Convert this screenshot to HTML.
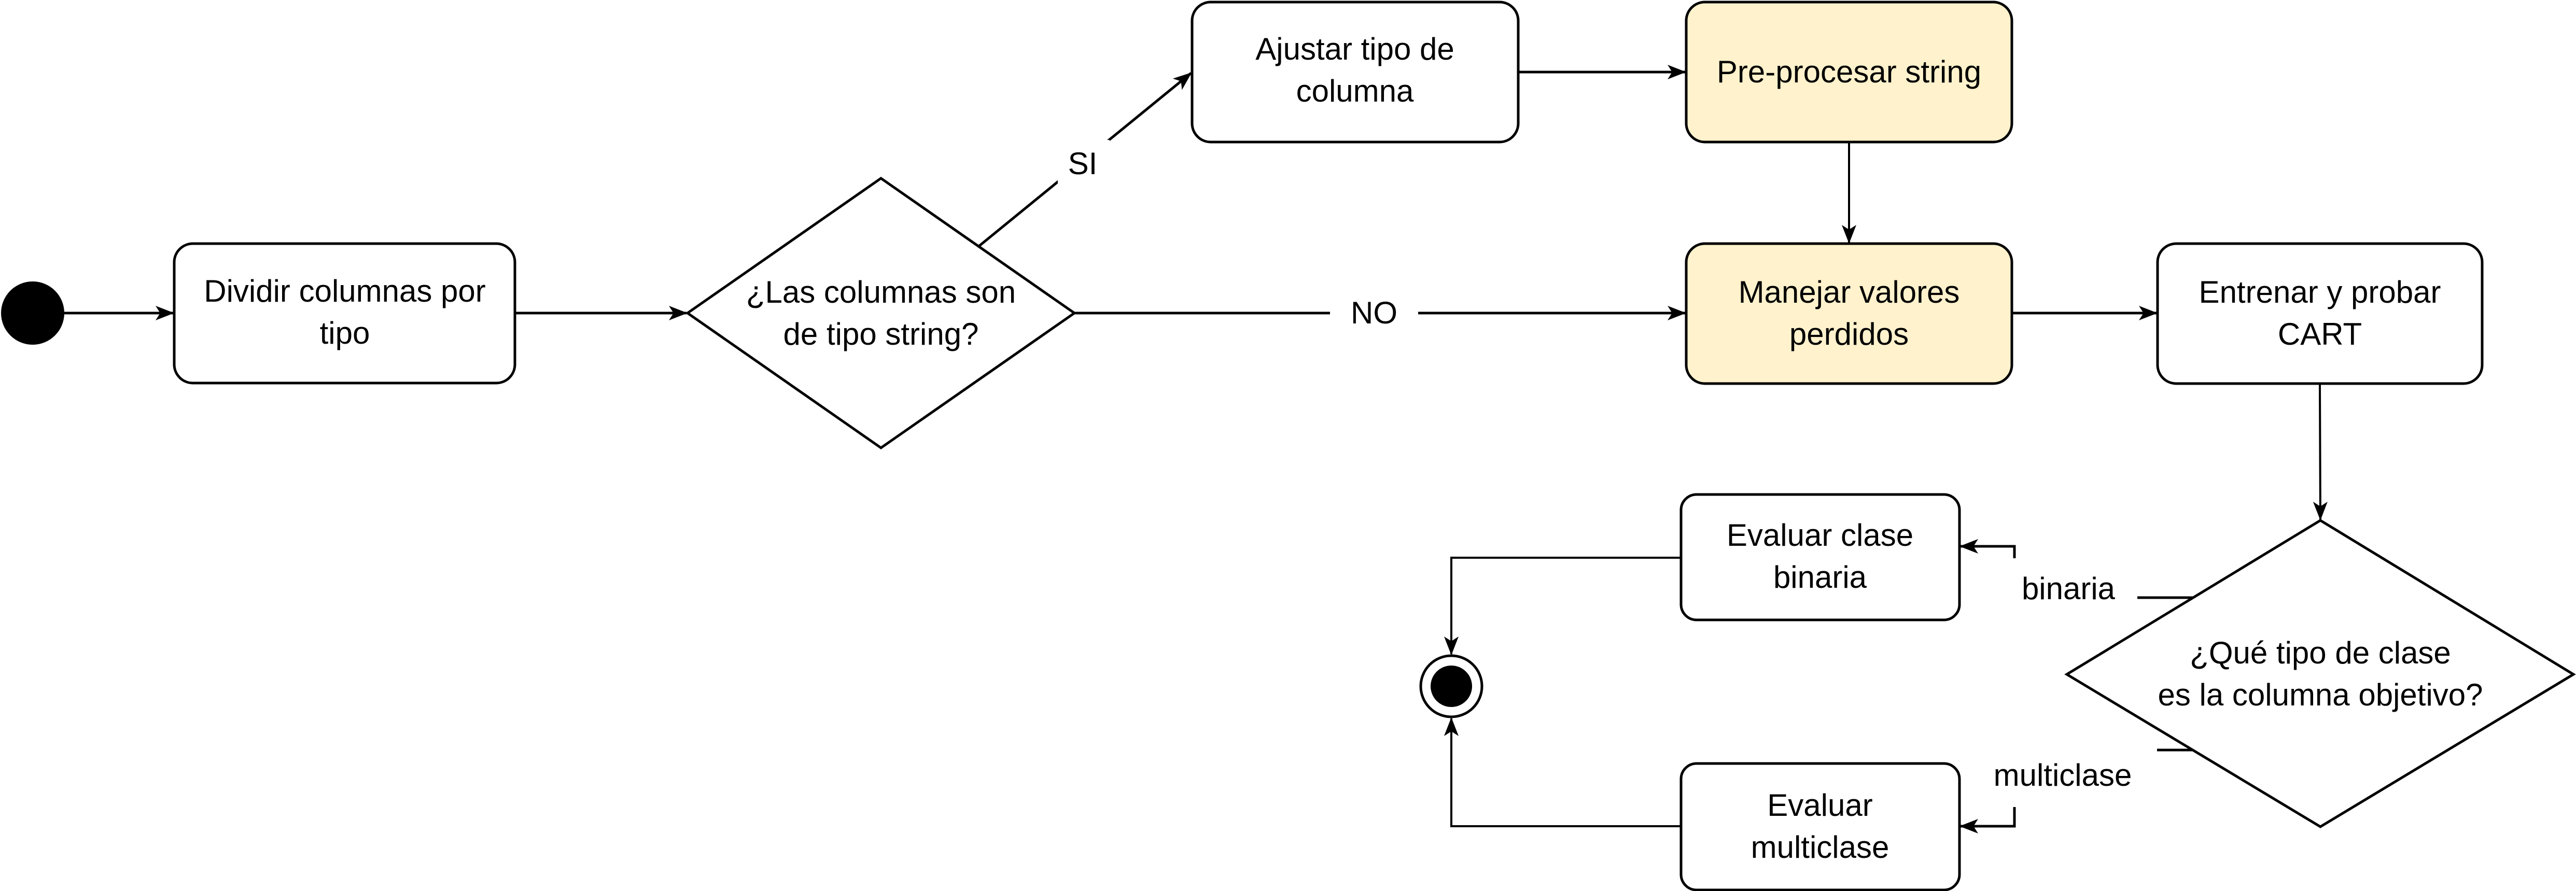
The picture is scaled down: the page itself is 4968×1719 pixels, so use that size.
<!DOCTYPE html>
<html><head><meta charset="utf-8"><style>html,body{margin:0;padding:0;background:#fff}svg{display:block}text{font-family:"Liberation Sans",Arial,sans-serif;font-size:60px}</style></head>
<body>
<svg width="4968" height="1719" viewBox="0 0 4968 1719" xmlns="http://www.w3.org/2000/svg">
<defs>
<marker id="b" markerWidth="36" markerHeight="36" refX="34" refY="18" orient="auto" markerUnits="userSpaceOnUse" viewBox="0 0 36 36"><path d="M0,4 L36,18 L0,32 L9,18 Z" fill="#000"/></marker>
</defs>
<g fill="none" stroke="#000" stroke-width="5">
<line x1="123" y1="604" x2="334" y2="604" marker-end="url(#b)"/>
<line x1="995" y1="604" x2="1324" y2="604" marker-end="url(#b)"/>
<line x1="1889" y1="474" x2="2297" y2="141" marker-end="url(#b)"/>
<line x1="2072" y1="604" x2="3250" y2="604" marker-end="url(#b)"/>
<line x1="2928" y1="139" x2="3250" y2="139" marker-end="url(#b)"/>
<line x1="3566" y1="274" x2="3566" y2="468" stroke-width="4" marker-end="url(#b)"/>
<line x1="3880" y1="604" x2="4159" y2="604" marker-end="url(#b)"/>
<line x1="4474" y1="740" x2="4475" y2="1002" stroke-width="4" marker-end="url(#b)"/>
<line x1="4231" y1="1153" x2="4122" y2="1153"/>
<polyline points="3885,1077 3885,1054 3781,1054" marker-end="url(#b)"/>
<line x1="4231" y1="1447" x2="4160" y2="1447"/>
<polyline points="3885,1557 3885,1594 3781,1594" marker-end="url(#b)"/>
<polyline points="3242,1076 2799,1076 2799,1262" stroke-width="4" marker-end="url(#b)"/>
<polyline points="3242,1594 2799,1594 2799,1386" stroke-width="4" marker-end="url(#b)"/>
<rect x="336" y="470" width="657" height="269" rx="36" fill="#fff"/>
<polygon points="1326,604 1699,344 2072,604 1699,864" fill="#fff"/>
<rect x="2299" y="4" width="629" height="270" rx="36" fill="#fff"/>
<rect x="3252" y="4" width="628" height="270" rx="36" fill="#fff2cc"/>
<rect x="3252" y="470" width="628" height="270" rx="36" fill="#fff2cc"/>
<rect x="4161" y="470" width="626" height="270" rx="36" fill="#fff"/>
<polygon points="3986,1301 4475,1004 4963,1301 4475,1595" fill="#fff"/>
<rect x="3242" y="954" width="537" height="242" rx="30" fill="#fff"/>
<rect x="3242" y="1473" width="537" height="244" rx="30" fill="#fff"/>
<circle cx="2799" cy="1324" r="59" fill="#fff"/>
</g>
<circle cx="63" cy="604" r="61" fill="#000"/>
<circle cx="2799" cy="1324" r="40" fill="#000"/>
<g fill="#fff">
<rect x="2040" y="270" width="100" height="90"/>
<rect x="2565" y="565" width="170" height="80"/>
</g>
<g fill="#000" text-anchor="middle">
<text x="665" y="582">Dividir columnas por</text><text x="665" y="663">tipo</text>
<text x="1699" y="584">¿Las columnas son</text><text x="1699" y="665">de tipo string?</text>
<text x="2613" y="115">Ajustar tipo de</text><text x="2613" y="196">columna</text>
<text x="3566" y="159">Pre-procesar string</text>
<text x="3566" y="584">Manejar valores</text><text x="3566" y="665">perdidos</text>
<text x="4474" y="584">Entrenar y probar</text><text x="4474" y="665">CART</text>
<text x="4475" y="1280">¿Qué tipo de clase</text><text x="4475" y="1361">es la columna objetivo?</text>
<text x="3510" y="1053">Evaluar clase</text><text x="3510" y="1134">binaria</text>
<text x="3510" y="1574">Evaluar</text><text x="3510" y="1655">multiclase</text>
<text x="2088" y="336">SI</text>
<text x="2650" y="624">NO</text>
<text x="3989" y="1156">binaria</text>
<text x="3978" y="1516">multiclase</text>
</g>
</svg>
</body></html>
